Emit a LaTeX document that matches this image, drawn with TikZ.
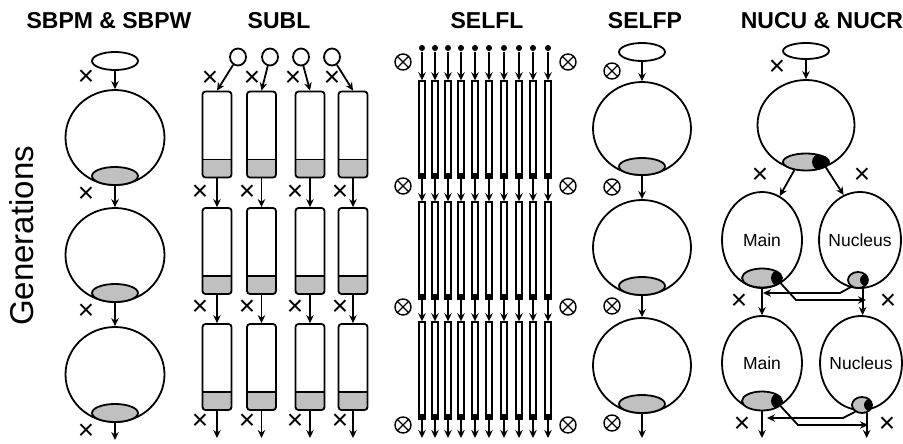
\documentclass[tikz,border=0pt]{standalone}
\usepackage{fontspec}
\setmainfont{Liberation Sans}
\usetikzlibrary{shapes.geometric,arrows.meta}
\definecolor{gfill}{RGB}{192,192,192}
\tikzset{
 arr/.style={-{Stealth[length=8pt,width=7.5pt]}},
 ell/.style args={#1x#2}{ellipse,draw,inner sep=0pt,minimum width=#1pt,minimum height=#2pt},
 gell/.style args={#1x#2}{ell=#1x#2,fill=gfill},
 blk/.style 2 args={path picture={\fill[black] ([xshift=-#1pt]path picture bounding box.east) circle (#2pt);}},
 subrect/.style={draw,rounded corners=3pt,inner sep=0pt,minimum width=29pt,minimum height=86pt,
   path picture={\fill[gfill,sharp corners] (path picture bounding box.south west) rectangle ([yshift=18pt]path picture bounding box.south east);
     \draw[sharp corners,line width=1.5pt] ([yshift=18pt]path picture bounding box.south west) -- ([yshift=18pt]path picture bounding box.south east);}},
 flrect/.style={draw,line width=1.4pt,inner sep=0pt,minimum width=6pt,minimum height=97pt,
   path picture={\fill[black] (path picture bounding box.south west) rectangle ([yshift=5pt]path picture bounding box.south east);}},
 farr/.style={arr,line width=1.4pt},
 smallc/.style={ell=16x17},
 dotn/.style={circle,fill=black,inner sep=0pt,minimum size=6pt},
 xm/.style={inner sep=0pt,font=\fontsize{28}{30}\selectfont},
 title/.style={anchor=base,inner sep=0pt,font=\bfseries\fontsize{23}{27}\selectfont},
 every label/.style={inner sep=0pt,font=\fontsize{17.5}{20}\selectfont},
 otm/.pic={\draw[line width=1.4pt] (0,0) circle (8pt) (-5.6pt,-5.6pt) -- (5.6pt,5.6pt) (-5.6pt,5.6pt) -- (5.6pt,-5.6pt);}
}
\begin{document}
\begin{tikzpicture}[x=1pt,y=-1pt,line width=1.8pt]
\useasboundingbox (0,0) rectangle (903,444);
% titles
\node[title] (h1) at (109,28.5) {SBPM \& SBPW};
\node[title] (h2) at (279,28.5) {SUBL};
\node[title] (h3) at (487,28.5) {SELFL};
\node[title] (h4) at (645,28.5) {SELFP};
\node[title] (h5) at (822,28.5) {NUCU \& NUCR};
\node[rotate=90,anchor=base,inner sep=0pt,font=\fontsize{33}{38}\selectfont] (gen) at (33,236) {Generations};
% column 1
\node[ell=46x18] (T1) at (115,61) {};
\node[ell=99x95] (C1a) at (115,137.5) {};
\node[gell=46x18] (G1a) at (115,176) {};
\node[ell=99x94] (C1b) at (115,255) {};
\node[gell=46x18] (G1b) at (115,293) {};
\node[ell=99x95] (C1c) at (115,374.5) {};
\node[gell=46x18] (G1c) at (115,413) {};
\coordinate (E1) at (115,440);
\draw[arr] (T1.south) -- (C1a.north);
\draw[arr] (G1a.south) -- (C1b.north);
\draw[arr] (G1b.south) -- (C1c.north);
\draw[arr] (G1c.south) -- (E1);
\node[xm] (x11) at (86,78) {×};
\node[xm] (x12) at (86,195) {×};
\node[xm] (x13) at (86,312) {×};
\node[xm] (x14) at (86,432) {×};
% column 2
\foreach \i/\x/\sx/\xa/\xb in {1/217/238/210/200, 2/261.5/270/252/247, 3/310/301/293/295, 4/353/332/332/340} {
  \node[smallc] (s\i) at (\sx,57) {};
  \node[subrect] (ra\i) at (\x,134.5) {};
  \node[subrect] (rb\i) at (\x,251) {};
  \node[subrect] (rc\i) at (\x,367) {};
  \coordinate (re\i) at (\x,438);
  \draw[arr] (s\i) -- (ra\i.north);
  \draw[arr] (ra\i.south) -- (rb\i.north);
  \draw[arr] (rb\i.south) -- (rc\i.north);
  \draw[arr] (rc\i.south) -- (re\i);
  \node[xm] (xa\i) at (\xa,79) {×};
  \node[xm] (xb\i) at (\xb,193) {×};
  \node[xm] (xc\i) at (\xb,308) {×};
  \node[xm] (xd\i) at (\xb,422) {×};
}
% column 3
\foreach \i/\x in {1/422,2/435,3/448,4/461,5/475,6/489,7/504,8/519,9/533,10/548} {
  \node[dotn] (d\i) at (\x,48) {};
  \node[flrect] (fa\i) at (\x,129.5) {};
  \node[flrect] (fb\i) at (\x,250.5) {};
  \node[flrect] (fc\i) at (\x,370.5) {};
  \coordinate (fe\i) at (\x,438);
  \draw[farr] (d\i) -- (fa\i.north);
  \draw[farr] (fa\i.south) -- (fb\i.north);
  \draw[farr] (fb\i.south) -- (fc\i.north);
  \draw[farr] (fc\i.south) -- (fe\i);
}
\foreach \j/\y in {1/62,2/186,3/307,4/425} {
  \pic (ol\j) at (403,\y) {otm};
  \pic (or\j) at (568,\y) {otm};
}
% column 4
\node[ell=46x18] (T4) at (642,52) {};
\node[ell=98x93] (C4a) at (642,128.5) {};
\node[gell=46x17] (G4a) at (642,166.5) {};
\node[ell=98x95] (C4b) at (642,247.5) {};
\node[gell=46x18] (G4b) at (642,286) {};
\node[ell=98x95] (C4c) at (642,365.5) {};
\node[gell=46x18] (G4c) at (642,404) {};
\coordinate (E4) at (642,438);
\draw[arr] (T4.south) -- (C4a.north);
\draw[arr] (G4a.south) -- (C4b.north);
\draw[arr] (G4b.south) -- (C4c.north);
\draw[arr] (G4c.south) -- (E4);
\foreach \j/\y in {1/71,2/187,3/306,4/423} {
  \pic (op\j) at (612,\y) {otm};
}
% column 5
\node[ell=46x16] (T5) at (806,51) {};
\node[ell=97x90] (C5) at (806,125) {};
\node[gell=46x17,blk={8.5}{8.5}] (G5) at (806,162) {};
\node[ell=80x96,label=center:Main] (M2) at (762,240) {};
\node[ell=82x96,label=center:Nucleus] (N2) at (860,240) {};
\node[gell=40x19,blk={3}{8}] (MG2) at (762,278) {};
\node[gell=20x16,blk={2}{6}] (NG2) at (858,280) {};
\node[ell=80x94,label=center:Main] (M3) at (762,363) {};
\node[ell=82x94,label=center:Nucleus] (N3) at (861,363) {};
\node[gell=40x19,blk={3}{8}] (MG3) at (762,401) {};
\node[gell=20x16,blk={2}{6}] (NG3) at (862,405) {};
\draw[arr] (T5.south) -- (C5.north);
\draw[arr] (G5.215) -- (M2.68);
\draw[arr] (G5.345) -- (N2.110);
\draw[arr] (MG2.south) -- (M3.north);
\draw[arr] (NG2.300) -- (NG2.300 |- N3.north);
\coordinate (u2) at (840,293); \coordinate (u2e) at (763,293);
\draw[arr] (NG2.225) -- (u2) -- (u2e);
\coordinate (l2) at (796,300); \coordinate (l2e) at (866,300);
\draw[arr] (MG2.345) -- (l2) -- (l2e);
\coordinate (E5a) at (762,438); \coordinate (E5b) at (868,438);
\draw[arr] (MG3.south) -- (E5a);
\draw[arr] (NG3.300) -- (NG3.300 |- E5b);
\coordinate (u3) at (843,418); \coordinate (u3e) at (767,418);
\draw[arr] (NG3.225) -- (u3) -- (u3e);
\coordinate (l3) at (798,425); \coordinate (l3e) at (868,425);
\draw[arr] (MG3.345) -- (l3) -- (l3e);
\node[xm] (x50) at (777,68) {×};
\node[xm] (x51) at (760,176) {×};
\node[xm] (x52) at (862,176) {×};
\node[xm] (x53) at (739,302) {×};
\node[xm] (x54) at (888,302) {×};
\node[xm] (x55) at (742,425) {×};
\node[xm] (x56) at (887,425) {×};
\end{tikzpicture}
\end{document}
